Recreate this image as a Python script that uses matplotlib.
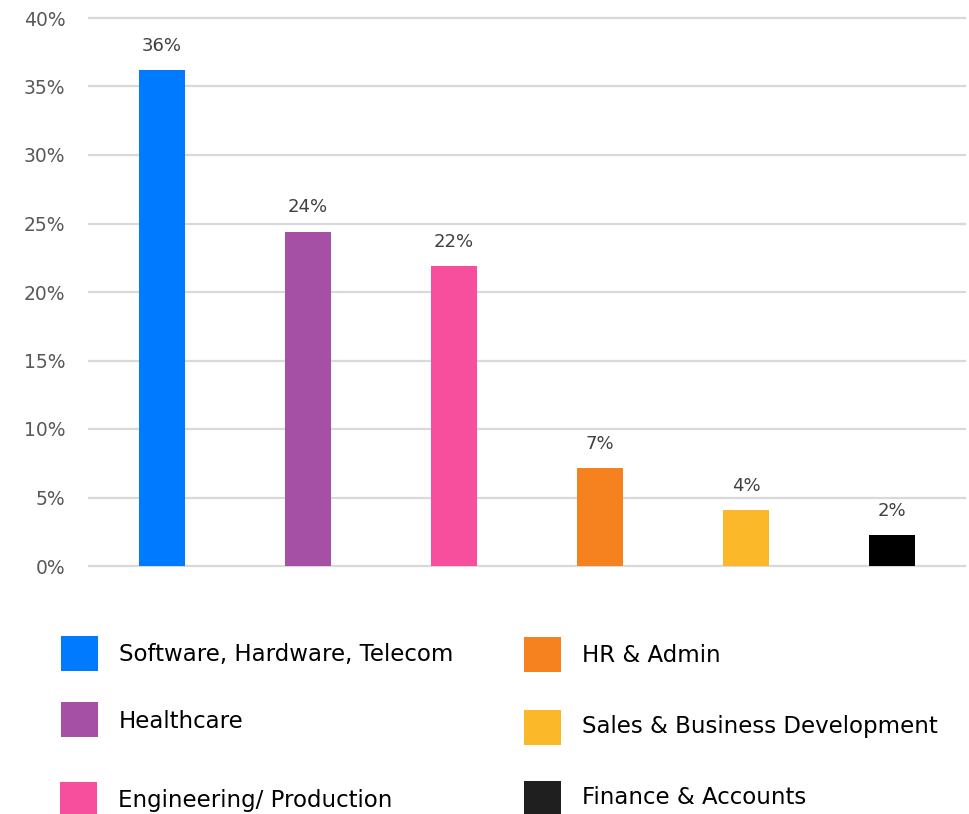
"""Bar chart of share by sector, with a hand-placed two-column key below."""
import matplotlib
matplotlib.use("Agg")
import matplotlib.pyplot as plt  # noqa: E402
from matplotlib.patches import Rectangle  # noqa: E402
from matplotlib.ticker import FuncFormatter  # noqa: E402

categories = ["Software, Hardware, Telecom", "Healthcare", "Engineering/ Production",
              "HR & Admin", "Sales & Business Development", "Finance & Accounts"]
values = [36.2, 24.4, 21.9, 7.15, 4.1, 2.25]
labels = ["36%", "24%", "22%", "7%", "4%", "2%"]
colors = ["#007BFF", "#A54FA5", "#F74F9E", "#F5821F", "#FBB829", "#000000"]
key_colors = ["#007BFF", "#A54FA5", "#F74F9E", "#F5821F", "#FBB829", "#1F1F1F"]
yticks = [0, 5, 10, 15, 20, 25, 30, 35, 40]

W, H = 969, 814
plt.rcParams["font.family"] = ["DejaVu Sans"]

fig = plt.figure(figsize=(W / 100, H / 100), dpi=100)
ax = fig.add_axes([89 / W, 1 - 566 / H, 876 / W, 548 / H])

x = range(len(categories))
ax.bar(x, values, width=0.315, color=colors, zorder=3)
for i, (v, lab) in enumerate(zip(values, labels)):
    ax.annotate(lab, (i, v), xytext=(0, 11), textcoords="offset points",
                ha="center", va="bottom", fontsize=13, color="#404040")

ax.set_xlim(-0.5, len(categories) - 0.5)
ax.set_ylim(0, 40)
ax.set_yticks(yticks)
ax.yaxis.set_major_formatter(FuncFormatter(lambda v, _: f"{v:.0f}%"))
ax.tick_params(axis="y", length=0, pad=17, labelsize=13.5, labelcolor="#595959")
ax.set_xticks([])
ax.grid(axis="y", color="#D9D9D9", linewidth=1.6, zorder=0)
ax.set_axisbelow(True)
for s in ax.spines.values():
    s.set_visible(False)
for gl in ax.get_ygridlines():
    gl.set_clip_on(False)


def fx(px):
    return px / W


def fy(py):
    return 1 - py / H


# key: (square left, square top, text centre y) in pixels
key_pos = [(61, 636, 654), (61, 702, 721), (60, 782, 800),
           (524, 637, 655), (524, 710, 726), (524, 781, 798)]
for name, col, (sx, sy, ty) in zip(categories, key_colors, key_pos):
    fig.add_artist(Rectangle((fx(sx), fy(sy + 35)), 37 / W, 35 / H,
                             transform=fig.transFigure, color=col, lw=0))
    fig.text(fx(sx + 58), fy(ty), name, ha="left", va="center",
             fontsize=16.5, color="#000000")

fig.savefig("out.png", dpi=100)
